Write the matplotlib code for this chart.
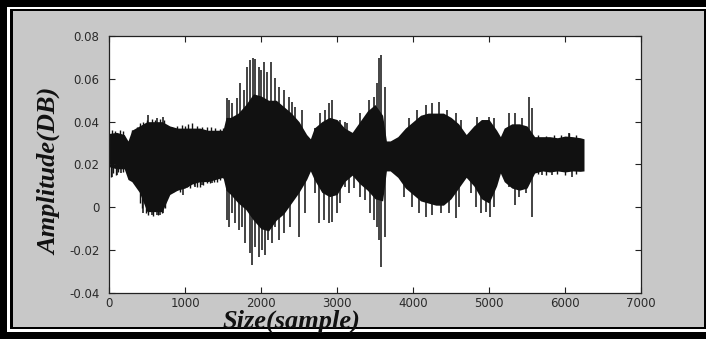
import matplotlib
matplotlib.use("Agg")
import matplotlib.pyplot as plt
from matplotlib.patches import Rectangle

# waveform body envelope (sample index -> upper / lower amplitude)
env_x = [0, 100, 200, 250, 300, 400, 500, 600, 700, 800, 900, 1000, 1100, 1200,
         1300, 1400, 1500, 1540, 1600, 1700, 1800, 1900, 2000, 2100, 2200, 2300,
         2400, 2500, 2600, 2650, 2700, 2800, 2900, 3000, 3100, 3200, 3300, 3400,
         3500, 3600, 3650, 3700, 3800, 3900, 4000, 4100, 4200, 4300, 4400, 4500,
         4600, 4700, 4800, 4900, 5000, 5100, 5150, 5200, 5300, 5400, 5500, 5600,
         5700, 5800, 5900, 6000, 6100, 6200, 6250]
env_hi = [0.0345, 0.035, 0.034, 0.031, 0.036, 0.038, 0.040, 0.040, 0.040, 0.038,
          0.037, 0.037, 0.037, 0.037, 0.036, 0.036, 0.036, 0.042, 0.042, 0.044,
          0.048, 0.053, 0.052, 0.050, 0.050, 0.047, 0.044, 0.040, 0.034, 0.032,
          0.037, 0.040, 0.042, 0.041, 0.037, 0.035, 0.040, 0.045, 0.048, 0.043,
          0.031, 0.031, 0.033, 0.037, 0.040, 0.043, 0.044, 0.044, 0.044, 0.042,
          0.039, 0.034, 0.038, 0.041, 0.041, 0.036, 0.033, 0.037, 0.039, 0.039,
          0.038, 0.033, 0.033, 0.033, 0.0325, 0.0333, 0.033, 0.0325, 0.032]
env_lo = [0.019, 0.018, 0.018, 0.013, 0.012, 0.007, -0.002, -0.002, -0.002, 0.006,
          0.008, 0.009, 0.011, 0.012, 0.012, 0.013, 0.014, 0.008, 0.006, 0.002,
          -0.001, -0.006, -0.010, -0.011, -0.006, -0.003, 0.002, 0.007, 0.013, 0.017,
          0.013, 0.007, 0.005, 0.006, 0.012, 0.015, 0.011, 0.008, 0.004, 0.003,
          0.017, 0.017, 0.014, 0.009, 0.006, 0.003, 0.002, 0.001, 0.001, 0.004,
          0.009, 0.014, 0.010, 0.004, 0.002, 0.010, 0.016, 0.012, 0.009, 0.008,
          0.009, 0.016, 0.017, 0.0165, 0.017, 0.0165, 0.017, 0.0168, 0.017]

# tall individual peaks above the body
up_x = [518, 628, 716, 1551, 1582, 1617, 1683, 1727, 1771, 1815, 1859, 1889, 1924,
        1968, 2003, 2034, 2078, 2130, 2188, 2231, 2297, 2363, 2407, 2451, 2539,
        2715, 2781, 2846, 2890, 2934, 3044, 3110, 3132, 3308, 3418, 3484, 3528,
        3559, 3585, 3625, 3945, 4055, 4165, 4253, 4341, 4451, 4561, 4627, 4846,
        4999, 5065, 5263, 5342, 5439, 5527, 5562, 6054]
up_y = [0.0431, 0.0415, 0.0420, 0.0509, 0.0501, 0.0485, 0.0509, 0.0579, 0.0548,
        0.0657, 0.0688, 0.0695, 0.0691, 0.0657, 0.0641, 0.0680, 0.0633, 0.0680,
        0.0602, 0.0563, 0.0548, 0.0516, 0.0493, 0.0470, 0.0454, 0.0369, 0.0439,
        0.0454, 0.0485, 0.0501, 0.0408, 0.0400, 0.0392, 0.0439, 0.0501, 0.0516,
        0.0579, 0.0695, 0.0711, 0.0563, 0.0415, 0.0454, 0.0478, 0.0485, 0.0493,
        0.0454, 0.0439, 0.0408, 0.0423, 0.0423, 0.0415, 0.0439, 0.0442, 0.0415,
        0.0516, 0.0462, 0.0345]
# short peaks along the top edge
small_up_x = [35, 79, 145, 189, 299, 365, 409, 453, 496, 562, 606, 672, 729, 826,
              892, 958, 1002, 1046, 1098, 1155, 1221, 1287, 1344, 1397, 1463, 1494,
              5650, 5750, 5850, 5950, 6050, 6150]
small_up_y = [0.0361, 0.0357, 0.0363, 0.0357, 0.0361, 0.0377, 0.0392, 0.0400,
              0.0408, 0.0411, 0.0408, 0.0411, 0.0408, 0.0373, 0.0380, 0.0384,
              0.0380, 0.0389, 0.0392, 0.0380, 0.0373, 0.0373, 0.0373, 0.0369,
              0.0365, 0.0369, 0.0340, 0.0335, 0.0340, 0.0340, 0.0345, 0.0340]

# tall individual peaks below the body
dn_x = [35, 101, 158, 453, 562, 628, 672, 716, 980, 1046, 1133, 1221, 1353, 1551,
        1582, 1617, 1661, 1705, 1749, 1792, 1859, 1880, 1924, 1968, 2012, 2047,
        2091, 2144, 2188, 2231, 2297, 2385, 2495, 2583, 2715, 2759, 2825, 2890,
        2934, 2999, 3044, 3110, 3154, 3220, 3308, 3374, 3440, 3484, 3528, 3559,
        3585, 3625, 3875, 3990, 4077, 4165, 4253, 4363, 4473, 4561, 4605, 4758,
        4824, 4890, 4956, 5009, 5065, 5263, 5342, 5395, 5483, 5562, 5702, 5834, 6098]
dn_y = [0.0143, 0.0151, 0.0159, -0.0028, -0.0036, -0.0036, -0.0036, -0.0028,
        0.0057, 0.0096, 0.0096, 0.0104, 0.0112, -0.0059, -0.0090, -0.0028, -0.0075,
        -0.0106, -0.0090, -0.0168, -0.0215, -0.0269, -0.0184, -0.0230, -0.0199,
        -0.0223, -0.0153, -0.0168, -0.0090, -0.0153, -0.0121, -0.0090, -0.0137,
        -0.0028, 0.0065, -0.0075, -0.0059, -0.0075, -0.0067, -0.0028, 0.0019,
        0.0096, 0.0065, 0.0089, 0.0050, 0.0034, -0.0028, -0.0059, -0.0090, -0.0153,
        -0.0277, -0.0137, 0.0050, 0.0003, -0.0028, -0.0044, -0.0036, -0.0028,
        -0.0028, -0.0051, 0.0003, 0.0065, 0.0003, -0.0028, -0.0020, -0.0044,
        0.0003, 0.0096, 0.0011, 0.0050, 0.0065, -0.0044, 0.0151, 0.0151, 0.0143]
# short peaks along the bottom edge
small_dn_x = [26, 57, 88, 123, 189, 409, 439, 483, 518, 584, 650, 694, 738, 848,
              892, 936, 1024, 1068, 1112, 1155, 1199, 1243, 1287, 1331, 1375, 1419,
              1463, 1494, 5650, 5750, 5900, 6000, 6150]
small_dn_y = [0.0143, 0.0159, 0.0151, 0.0166, 0.0166, 0.0019, -0.0005, -0.0028,
              -0.0036, -0.0040, -0.0036, -0.0028, -0.0005, 0.0073, 0.0081, 0.0073,
              0.0096, 0.0089, 0.0104, 0.0096, 0.0096, 0.0104, 0.0112, 0.0112,
              0.0120, 0.0120, 0.0128, 0.0135, 0.0155, 0.0150, 0.0155, 0.0150, 0.0155]

xticks = [0, 1000, 2000, 3000, 4000, 5000, 6000, 7000]
yticks = [-0.04, -0.02, 0.0, 0.02, 0.04, 0.06, 0.08]
ytick_labels = ["-0.04", "-0.02", "0", "0.02", "0.04", "0.06", "0.08"]

W, H = 706, 339
fig = plt.figure(figsize=(W / 100, H / 100), dpi=100)
fig.patch.set_facecolor("black")


def frame_box(x0, y0, x1, y1, color):
    # box given in image pixels (y down)
    fig.add_artist(Rectangle((x0 / W, 1 - y1 / H), (x1 - x0) / W, (y1 - y0) / H,
                             transform=fig.transFigure, facecolor=color,
                             edgecolor="none", zorder=-10))


frame_box(7, 7, W, 332, "white")
frame_box(9.5, 9, W, 328.5, "black")
frame_box(13, 11, 704, 327, "#c8c8c8")

ax = fig.add_axes([109 / W, 1 - 293 / H, 532 / W, 257 / H])
ax.set_facecolor("white")

body = "#111111"
ax.fill_between(env_x, env_lo, env_hi, color=body, lw=0)
ax.vlines(up_x, 0.025, up_y, color=body, lw=1.1)
ax.vlines(dn_x, dn_y, 0.025, color=body, lw=1.1)
ax.vlines(small_up_x, 0.025, small_up_y, color=body, lw=1.0)
ax.vlines(small_dn_x, small_dn_y, 0.025, color=body, lw=1.0)

ax.set_xlim(0, 7000)
ax.set_ylim(-0.04, 0.08)
ax.set_xticks(xticks)
ax.set_xticklabels([str(t) for t in xticks])
ax.set_yticks(yticks)
ax.set_yticklabels(ytick_labels)
ax.tick_params(direction="in", length=4, width=0.8, top=True, right=True,
               labelsize=8.5, labelcolor="#2a2a2a", color="#222222")
ax.tick_params(axis="x", pad=3)
ax.tick_params(axis="y", pad=7)
for s in ax.spines.values():
    s.set_color("#222222")
    s.set_linewidth(0.9)

lab_font = dict(family="Liberation Serif", weight="bold", style="italic",
                size=19, color="#111111")
fig.text(291.5 / W, 1 - 327.5 / H, "Size(sample)", ha="center", va="baseline",
         **lab_font)
fig.text(50 / W, 1 - 171 / H, "Amplitude(DB)", ha="center", va="center",
         rotation=90, **lab_font)

fig.savefig("out.png", dpi=100, facecolor=fig.get_facecolor())
